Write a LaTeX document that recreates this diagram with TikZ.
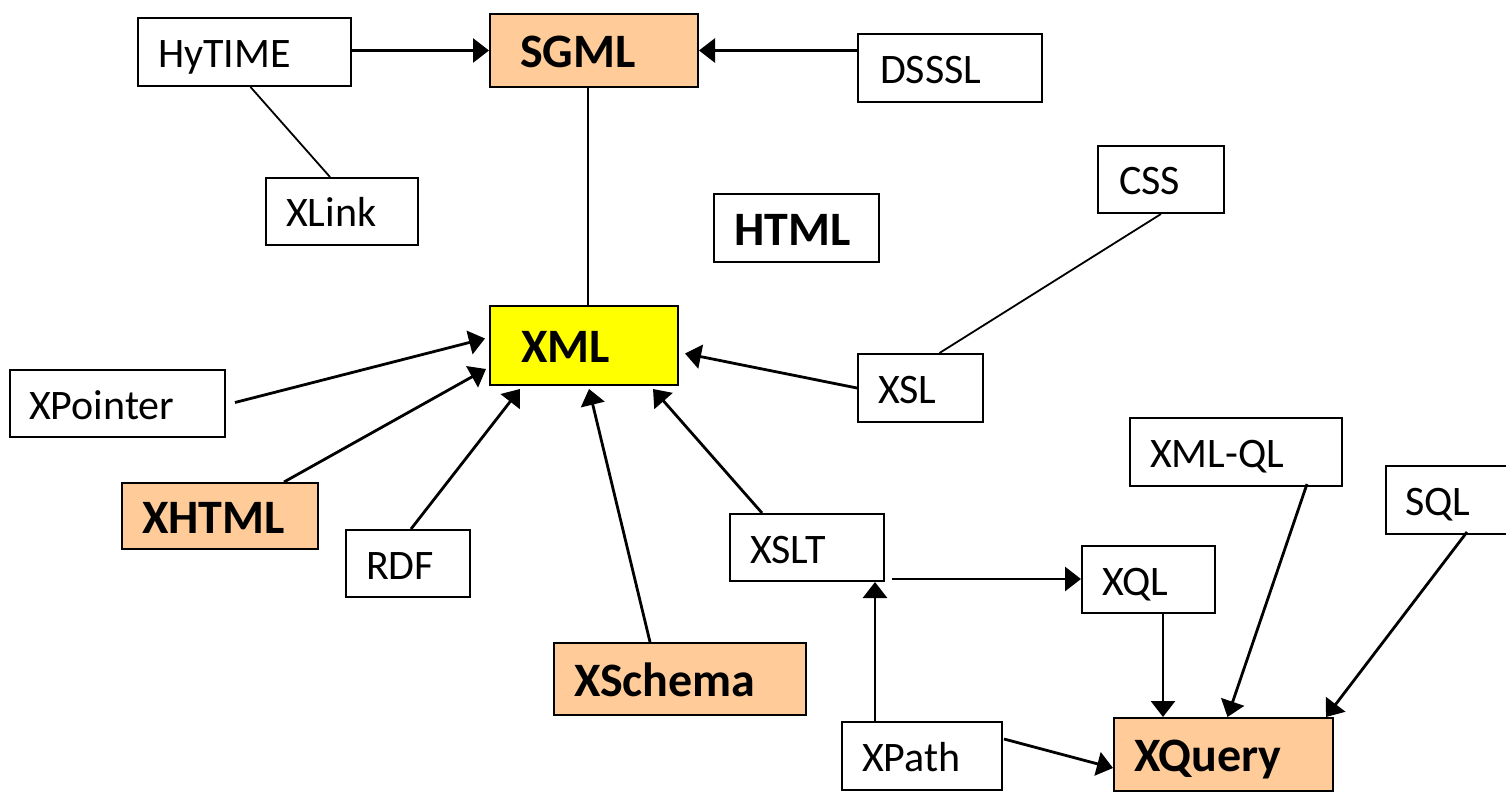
\documentclass[tikz,border=0pt]{standalone}
\usepackage{fontspec}
\setmainfont{Carlito}
\usetikzlibrary{arrows.meta,calc}
\definecolor{peach}{HTML}{FFCC99}
\definecolor{xmlyellow}{HTML}{FFFF00}

\begin{document}
\begin{tikzpicture}[x=0.5pt,y=-0.5pt,
  box/.style={draw, line width=1pt, fill=white, inner sep=0pt, text height=15.5pt,
    text depth=0pt, align=left, font=\fontsize{21}{25}\selectfont},
  key/.style={box, text height=17pt, font=\fontsize{24}{28}\selectfont\bfseries},
  link/.style={line width=0.9pt},
  feed/.style={line width=1.4pt, -{Triangle[length=8pt,width=12pt]}},
]
\useasboundingbox (0,0) rectangle (1506,792);

% technologies
\node[box, minimum width=106.5pt, minimum height=34pt, text width=86.5pt] (hytime) at (244.5,52) {HyTIME};
\node[key, fill=peach, minimum width=104pt, minimum height=36.5pt, text width=74pt] (sgml) at (594,50.5) {SGML};
\node[box, minimum width=92pt, minimum height=34pt, text width=70pt] (dsssl) at (950,68) {DSSSL};
\node[box, minimum width=76pt, minimum height=33.5pt, text width=56pt] (xlink) at (342,211.5) {XLink};
\node[box, minimum width=63pt, minimum height=33.5pt, text width=42pt] (css) at (1161,179.5) {CSS};
\node[key, minimum width=82.5pt, minimum height=34pt, text width=62pt] (html) at (796.5,228) {HTML};
\node[key, fill=xmlyellow, minimum width=94pt, minimum height=39.5pt, text width=63pt] (xml) at (584,345.5) {XML};
\node[box, minimum width=107.5pt, minimum height=33.5pt, text width=88.5pt] (xpointer) at (117.5,403.5) {XPointer};
\node[box, minimum width=62.5pt, minimum height=34pt, text width=42.5pt] (xsl) at (920.5,388) {XSL};
\node[box, minimum width=106pt, minimum height=34pt, text width=86pt] (xmlql) at (1236,452) {XML-QL};
\node[box, minimum width=63pt, minimum height=34pt, text width=44pt] (sql) at (1449,500) {SQL};
\node[key, fill=peach, minimum width=98pt, minimum height=33pt, text width=78pt] (xhtml) at (220,516) {XHTML};
\node[box, minimum width=62pt, minimum height=33.5pt, text width=42pt] (rdf) at (408,563.5) {RDF};
\node[box, minimum width=77pt, minimum height=33.5pt, text width=57pt] (xslt) at (807,547.5) {XSLT};
\node[box, minimum width=66.5pt, minimum height=33.5pt, text width=46.5pt] (xql) at (1148.5,579.5) {XQL};
\node[key, fill=peach, minimum width=126pt, minimum height=36pt, text width=106pt] (xschema) at (680,679) {XSchema};
\node[box, minimum width=80pt, minimum height=34pt, text width=60pt] (xpath) at (922,756) {XPath};
\node[key, fill=peach, minimum width=109.5pt, minimum height=36.5pt, text width=89.5pt] (xquery) at (1223.5,754.5) {XQuery};

% plain relations
\draw[link] ($(hytime.south)+(6,0)$) -- ($(xlink.north)+(-12,0)$);
\coordinate (sg) at ($(sgml.south)+(-6,0)$);
\draw[link] (sg) -- (sg |- xml.north);
\draw[link] (css.south) -- ($(xsl.north)+(19,0)$);

% influences
\draw[feed] (sgml.west -| hytime.east) -- (sgml.west);
\draw[feed] (sgml.east -| dsssl.west) -- (sgml.east);
\draw[feed] (xsl.west) -- ($(xml.east)+(6,8)$);
\draw[feed] ($(xpointer.east)+(9,-1)$) -- ($(xml.west)+(-4,-7)$);
\draw[feed] ($(xhtml.north)+(64,0)$) -- ($(xml.south west)+(-3,-17)$);
\draw[feed] ($(rdf.north)+(3,0)$) -- ($(xml.south west)+(31,3)$);
\draw[feed] ($(xschema.north)+(-30,0)$) -- ($(xml.south)+(5,3)$);
\draw[feed] ($(xslt.north)+(-45,0)$) -- ($(xml.south east)+(-26,3)$);
\coordinate (st) at ($(xslt.south east)+(7,-3)$);
\draw[feed] (st) -- (st -| xql.west);
\coordinate (pa) at ($(xpath.north)+(-47,0)$);
\draw[feed] (pa) -- (pa |- xslt.south);
\coordinate (ql) at ($(xql.south)+(14.5,-2)$);
\draw[feed] (ql) -- (ql |- xquery.north);
\draw[feed] ($(xmlql.south)+(71,-3)$) -- ($(xquery.north)+(4,0)$);
\draw[feed] ($(sql.south)+(18,-3)$) -- ($(xquery.north east)+(-8,0)$);
\draw[feed] ($(xpath.east)+(1,-17)$) -- ($(xquery.west)+(0,13.5)$);
\end{tikzpicture}
\end{document}
